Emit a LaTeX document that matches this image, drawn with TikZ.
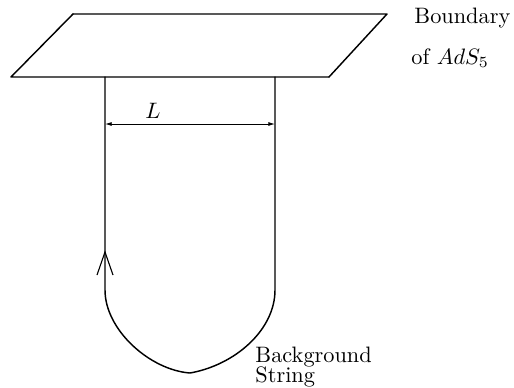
\documentclass[tikz,border=0pt]{standalone}
\usetikzlibrary{arrows.meta}
\begin{document}
\begin{tikzpicture}[x=0.448pt,y=-0.448pt,
  line/.style={line width=0.65pt,line cap=round,line join=round},
  dimline/.style={line width=0.4pt,{Latex[length=3pt,width=1.8pt]}-{Latex[length=3pt,width=1.8pt]}},
  lbl/.style={anchor=base west,inner sep=0pt}]
\useasboundingbox (0,0) rectangle (514,387);
% boundary plane
\coordinate (tl) at (73,14);
\coordinate (tr) at (387,14);
\coordinate (br) at (329,77);
\coordinate (bl) at (11,77);
\draw[line] (tl) -- (tr) -- (br);
\draw[line] (tl) -- (bl) -- (br);
% string
\coordinate (a) at (105,77);
\coordinate (a2) at (105,290);
\coordinate (bot) at (190,373);
\coordinate (b2) at (275,290);
\coordinate (b) at (275,77);
\draw[line] (a) -- (a2) .. controls (105,330) and (150,370) .. (bot)
  .. controls (235,365) and (275,330) .. (b2) -- (b);
% open arrow on left leg
\coordinate (tip) at (105,252);
\coordinate (w1) at (97,275);
\coordinate (w2) at (113,275);
\draw[line width=0.5pt] (w1) -- (tip) -- (w2);
% dimension L
\coordinate (d1) at (105,124);
\coordinate (d2) at (275,124);
\draw[dimline] (d1) -- (d2);
\node[anchor=base,inner sep=0pt] (L) at (153,118) {$L$};
% labels
\node[lbl] (bd) at (414,23) {Boundary};
\node[lbl] (ads) at (411,64) {of $AdS_5$};
\node[lbl] (bg) at (255,362) {Background};
\node[lbl] (st) at (255,382) {String};
\end{tikzpicture}
\end{document}
